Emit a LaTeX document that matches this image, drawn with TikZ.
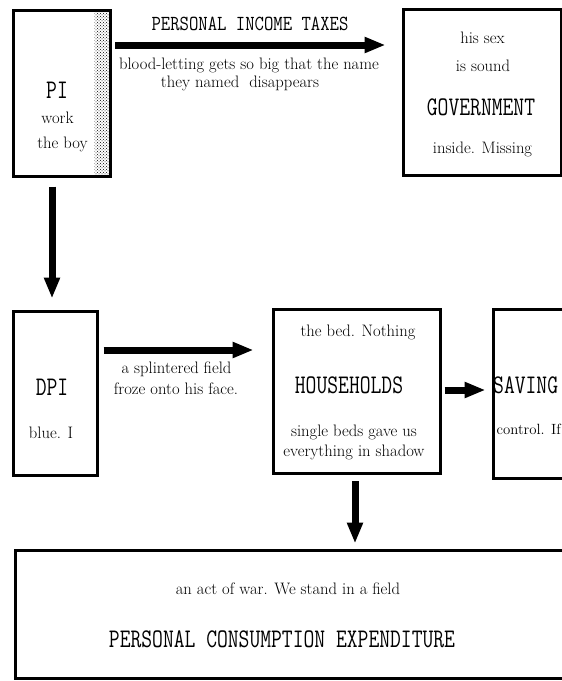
\documentclass[tikz,border=0pt]{standalone}
\usepackage{fontspec}
\usepackage{graphicx}
\usetikzlibrary{arrows.meta}
\usetikzlibrary{patterns}
\pgfdeclarelayer{edgelayer}
\pgfdeclarelayer{nodelayer}
\pgfsetlayers{edgelayer,nodelayer,main}
\tikzstyle{sector}=[rectangle,draw=black,line width=3pt,fill=white,inner sep=0pt]
\tikzstyle{flow}=[-{Triangle[length=21pt,width=15pt]},line width=7pt,draw=black]
\tikzstyle{words}=[anchor=base,inner sep=0pt,font=\fontsize{16.6}{19}\selectfont]
\tikzstyle{caps}=[anchor=base,inner sep=0pt,font=\fontsize{21}{21}\selectfont\ttfamily]
\newcommand{\tall}[2][1.28]{\scalebox{1}[#1]{#2}}

\begin{document}
\begin{tikzpicture}[x=1pt,y=-1pt]
	\useasboundingbox (0,0) rectangle (562,681);
	\begin{pgfonlayer}{nodelayer}
		\node [style=sector, minimum width=97pt, minimum height=166pt, path picture={\fill [pattern=crosshatch dots] ([xshift=-16pt]path picture bounding box.north east) rectangle (path picture bounding box.south east);}] (pi) at (62, 93.5) {};
		\node [style=sector, minimum width=158pt, minimum height=166pt] (gov) at (482.5, 92.5) {};
		\node [style=sector, minimum width=84pt, minimum height=164pt] (dpi) at (55.5, 393.5) {};
		\node [style=sector, minimum width=167pt, minimum height=164pt] (hh) at (357, 391.5) {};
		\node [style=sector, minimum width=71.5pt, minimum height=169pt] (sav) at (529.25, 394) {};
		\node [style=sector, minimum width=549.5pt, minimum height=128pt] (pce) at (290.25, 614.5) {};
	\end{pgfonlayer}
	\coordinate (taxrow) at (0, 45);
	\coordinate (dpicol) at (52, 0);
	\coordinate (spendrow) at (0, 350);
	\coordinate (saverow) at (0, 390);
	\coordinate (pcecol) at (355, 0);
	\begin{pgfonlayer}{edgelayer}
		\draw [style=flow, shorten <=3pt, shorten >=16.5pt] (pi.east |- taxrow) to (gov.west |- taxrow);
		\draw [style=flow, shorten <=8.5pt, shorten >=11.5pt] (pi.south -| dpicol) to (dpi.north -| dpicol);
		\draw [style=flow, shorten <=4.5pt, shorten >=18.5pt] (dpi.east |- spendrow) to (hh.west |- spendrow);
		\draw [style=flow, shorten <=2.5pt, shorten >=6.5pt] (hh.east |- saverow) to (sav.west |- saverow);
		\draw [style=flow, shorten <=6pt, shorten >=5.5pt] (hh.south -| pcecol) to (pce.north -| pcecol);
	\end{pgfonlayer}
	% texts
	\node [style=caps, font=\fontsize{18.2}{18.2}\selectfont\ttfamily] (taxname) at (250, 30) {\tall[1.18]{PERSONAL INCOME TAXES}};
	\node [style=words] (taxtext1) at (249, 69) {blood-letting gets so big that the name};
	\node [style=words] (taxtext2) at (240, 87) {they named\ \ disappears};
	\node [style=caps] (piname) at (57, 98) {\tall{PI}};
	\node [style=words] (pitext1) at (57.5, 123) {work};
	\node [style=words] (pitext2) at (62.5, 148) {the boy};
	\node [style=words] (govtext1) at (482.5, 43) {his sex};
	\node [style=words] (govtext2) at (483, 71) {is sound};
	\node [style=caps] (govname) at (481, 115) {\tall{GOVERNMENT}};
	\node [style=words] (govtext3) at (482.5, 153) {inside. Missing};
	\node [style=caps] (dpiname) at (52, 395) {\tall{DPI}};
	\node [style=words] (dpitext) at (51, 438) {blue. I};
	\node [style=words] (spendtext1) at (176.5, 373) {a splintered field};
	\node [style=words] (spendtext2) at (176, 394) {froze onto his face.};
	\node [style=words] (hhtext1) at (358, 336) {the bed. Nothing};
	\node [style=caps] (hhname) at (349, 393) {\tall{HOUSEHOLDS}};
	\node [style=words] (hhtext2) at (354, 436) {single beds gave us};
	\node [style=words] (hhtext3) at (354, 456) {everything in shadow};
	\node [style=caps, anchor=base west] (savname) at (493, 393) {\tall{SAVING}};
	\node [style=words, anchor=base west, font=\fontsize{14.8}{18}\selectfont] (savtext) at (496.5, 434) {control. If};
	\node [style=words] (pcetext) at (288, 594) {an act of war. We stand in a field};
	\node [style=caps] (pcename) at (282, 647) {\tall{PERSONAL CONSUMPTION EXPENDITURE}};
\end{tikzpicture}
\end{document}
